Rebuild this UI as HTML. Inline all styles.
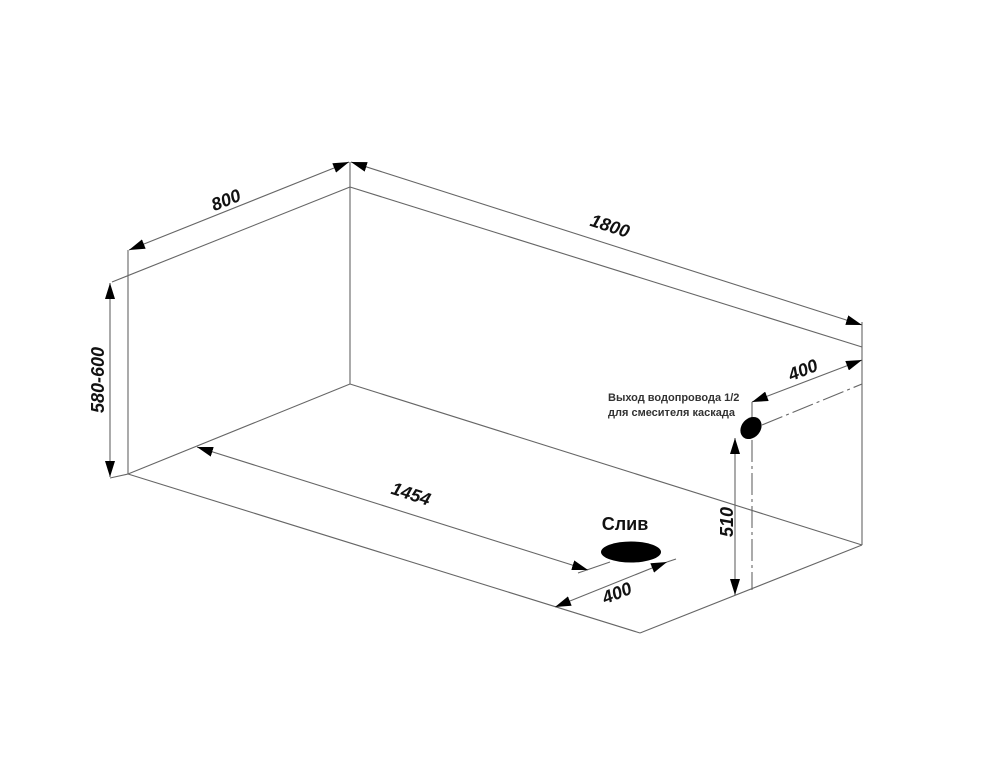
<!DOCTYPE html>
<html><head><meta charset="utf-8"><style>
html,body{margin:0;padding:0;background:#fff;}
svg{display:block;}
text{font-family:"Liberation Sans","DejaVu Sans",sans-serif;fill:#111;font-weight:bold;}
</style></head><body>
<svg width="1000" height="781" viewBox="0 0 1000 781" xmlns="http://www.w3.org/2000/svg">
<defs>
<marker id="a" viewBox="0 0 16 10" refX="16" refY="5" markerWidth="16" markerHeight="10" markerUnits="userSpaceOnUse" orient="auto-start-reverse">
<path d="M0,0 L16,5 L0,10 z" fill="#000"/></marker>
</defs>
<g stroke="#666" stroke-width="1.1" fill="none">
<line x1="112" y1="282" x2="350" y2="187"/>
<line x1="350" y1="187" x2="862" y2="347"/>
<line x1="128" y1="250" x2="128" y2="474"/>
<line x1="350" y1="162" x2="350" y2="384"/>
<line x1="862" y1="322" x2="862" y2="545"/>
<line x1="350" y1="384" x2="128" y2="474"/>
<line x1="350" y1="384" x2="862" y2="545"/>
<line x1="110" y1="478" x2="128" y2="474"/>
<line x1="128" y1="474" x2="640" y2="633"/>
<line x1="640" y1="633" x2="862" y2="545"/>
<line x1="752" y1="402" x2="752" y2="433"/>
<line x1="762" y1="425" x2="862" y2="384" stroke-dasharray="22,4,3,4"/>
<line x1="752" y1="440" x2="752" y2="590" stroke-dasharray="22,4,3,4"/>
<line x1="578" y1="573" x2="610" y2="562"/>
<line x1="667" y1="562" x2="676" y2="559"/>
</g>
<g stroke="#666" stroke-width="1.1" fill="none">
<line x1="129" y1="250" x2="349" y2="162" marker-start="url(#a)" marker-end="url(#a)"/>
<line x1="351" y1="162" x2="862" y2="325" marker-start="url(#a)" marker-end="url(#a)"/>
<line x1="110" y1="283" x2="110" y2="477" marker-start="url(#a)" marker-end="url(#a)"/>
<line x1="197" y1="447" x2="588" y2="570" marker-start="url(#a)" marker-end="url(#a)"/>
<line x1="752" y1="402" x2="862" y2="360" marker-start="url(#a)" marker-end="url(#a)"/>
<line x1="735" y1="438" x2="735" y2="595" marker-start="url(#a)" marker-end="url(#a)"/>
<line x1="555" y1="607" x2="667" y2="562" marker-start="url(#a)" marker-end="url(#a)"/>
</g>
<ellipse cx="631" cy="552" rx="30" ry="10.5" fill="#000"/>
<ellipse cx="751" cy="428" rx="9.5" ry="12" transform="rotate(40 751 428)" fill="#000"/>
<g font-size="18" text-anchor="middle" font-style="oblique">
<text x="226" y="206" transform="rotate(-22 226 200)">800</text>
<text x="610" y="232" transform="rotate(18 610 226)">1800</text>
<text x="104" y="380" transform="rotate(-90 104 380)">580-600</text>
<text x="411" y="500" transform="rotate(18 411 494)">1454</text>
<text x="803" y="376" transform="rotate(-22 803 370)">400</text>
<text x="733" y="522" transform="rotate(-90 733 522)">510</text>
<text x="617" y="599" transform="rotate(-22 617 593)">400</text>
</g>
<text x="625" y="530" font-size="18" text-anchor="middle">Слив</text>
<text x="608" y="401" font-size="11" style="font-weight:600;fill:#333">Выход водопровода 1/2</text>
<text x="608" y="416" font-size="11" style="font-weight:600;fill:#333">для смесителя каскада</text>
</svg>
</body></html>
